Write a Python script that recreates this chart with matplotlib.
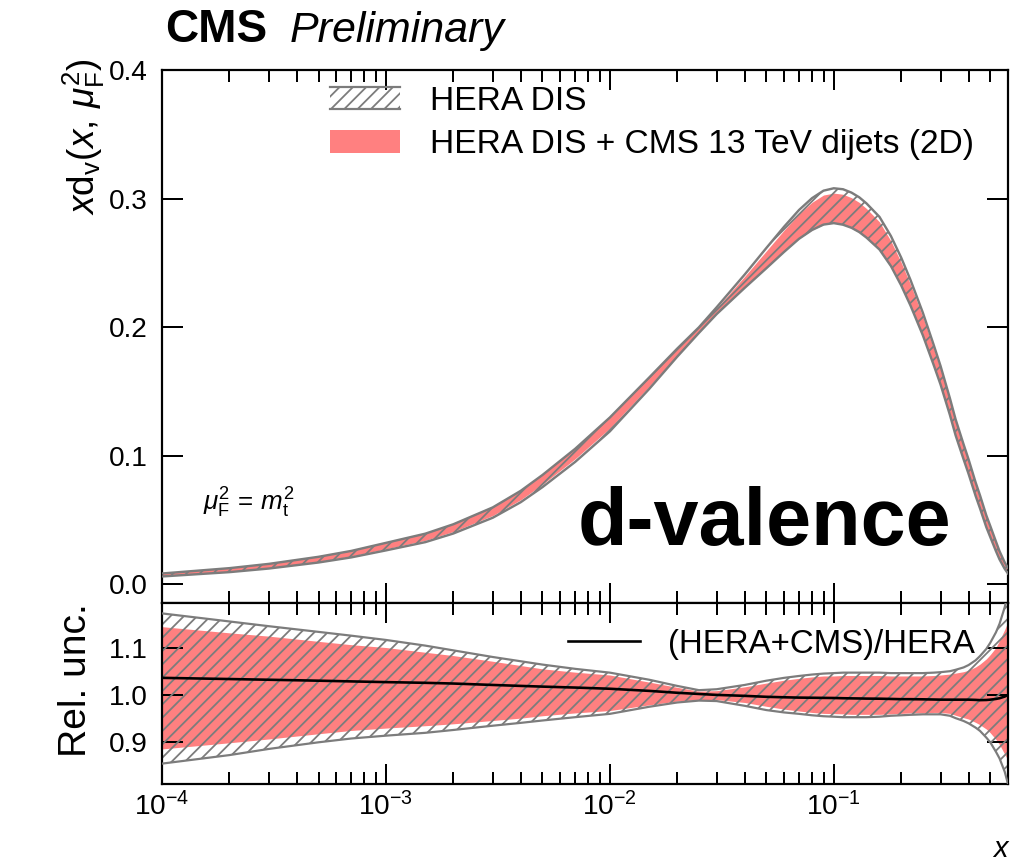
import matplotlib
matplotlib.use("Agg")
import numpy as np
import matplotlib.pyplot as plt
from matplotlib.patches import Rectangle, Patch
from matplotlib.lines import Line2D
from matplotlib.legend_handler import HandlerBase
from matplotlib.ticker import (FixedLocator, LogLocator, FormatStrFormatter,
                               NullLocator, NullFormatter)

# ---------------------------------------------------------------- data
x_grid = [1e-4, 2e-4, 3e-4, 5e-4, 7e-4,
          1e-3, 1.5e-3, 2e-3, 3e-3, 4e-3, 5e-3, 7e-3,
          1e-2, 1.5e-2, 2e-2, 2.5e-2, 3e-2, 4e-2, 5e-2, 6e-2, 7e-2, 8e-2, 9e-2,
          0.10, 0.11, 0.12, 0.13, 0.14, 0.16, 0.18, 0.20, 0.22, 0.25, 0.28, 0.30,
          0.33, 0.35, 0.38, 0.40, 0.43, 0.45, 0.48, 0.50, 0.53, 0.55, 0.58, 0.60]

# x d_v(x, mu_F^2) central value of the HERA DIS fit
xdv_hera = [0.0073, 0.0110, 0.0140, 0.0190, 0.0232,
            0.0290, 0.0358, 0.0428, 0.0555, 0.0680, 0.0800, 0.1000,
            0.1240, 0.1560, 0.1800, 0.1980, 0.2130, 0.2360, 0.2540, 0.2685,
            0.2800, 0.2880, 0.2930,
            0.2945, 0.2935, 0.2910, 0.2875, 0.2830, 0.2730, 0.2590, 0.2430,
            0.2265, 0.2020, 0.1775, 0.1620,
            0.1380, 0.1220, 0.1030, 0.0915, 0.0740, 0.0640, 0.0490, 0.0410,
            0.0295, 0.0225, 0.0145, 0.0105]

# relative uncertainty band, HERA DIS
hera_up = [1.172, 1.155, 1.145, 1.133, 1.125,
           1.116, 1.104, 1.094, 1.080, 1.071, 1.064, 1.055,
           1.047, 1.032, 1.019, 1.010, 1.012, 1.021, 1.030, 1.036, 1.040,
           1.043, 1.045,
           1.046, 1.047, 1.047, 1.047, 1.047, 1.047, 1.046, 1.046, 1.046,
           1.046, 1.047, 1.048,
           1.050, 1.053, 1.058, 1.063, 1.073, 1.082, 1.097, 1.110, 1.132,
           1.150, 1.185, 1.215]
hera_dn = [0.855, 0.873, 0.886, 0.900, 0.908,
           0.914, 0.920, 0.926, 0.935, 0.941, 0.946, 0.953,
           0.960, 0.975, 0.984, 0.988, 0.987, 0.977, 0.968, 0.963, 0.960,
           0.957, 0.955,
           0.954, 0.953, 0.953, 0.953, 0.953, 0.954, 0.956, 0.957, 0.958,
           0.959, 0.959, 0.959,
           0.956, 0.951, 0.945, 0.940, 0.931, 0.924, 0.910, 0.900, 0.880,
           0.866, 0.838, 0.812]

# relative uncertainty band, HERA DIS + CMS 13 TeV dijets (2D)
cms_up = [1.144, 1.131, 1.124, 1.113, 1.106,
          1.100, 1.090, 1.083, 1.071, 1.062, 1.055, 1.048,
          1.042, 1.027, 1.016, 1.008, 1.009, 1.017, 1.025, 1.031, 1.035,
          1.038, 1.040,
          1.040, 1.041, 1.041, 1.041, 1.041, 1.041, 1.040, 1.040, 1.040,
          1.040, 1.041, 1.042,
          1.044, 1.046, 1.049, 1.052, 1.059, 1.065, 1.076, 1.085, 1.100,
          1.115, 1.138, 1.155]
cms_dn = [0.886, 0.899, 0.907, 0.918, 0.925,
          0.930, 0.935, 0.939, 0.946, 0.951, 0.956, 0.962,
          0.967, 0.979, 0.987, 0.990, 0.990, 0.984, 0.976, 0.970, 0.966,
          0.963, 0.961,
          0.9605, 0.960, 0.959, 0.959, 0.959, 0.959, 0.960, 0.961, 0.962,
          0.962, 0.963, 0.963,
          0.961, 0.957, 0.952, 0.949, 0.942, 0.937, 0.928, 0.920, 0.906,
          0.895, 0.875, 0.862]

# central (HERA+CMS)/HERA
ratio = [1.036, 1.0335, 1.032, 1.030, 1.0285,
         1.027, 1.0255, 1.024, 1.021, 1.019, 1.0175, 1.0155,
         1.013, 1.0085, 1.0045, 1.002, 1.000, 0.998, 0.996, 0.995, 0.9943,
         0.994, 0.9937,
         0.9935, 0.993, 0.9927, 0.9925, 0.9922, 0.992, 0.9915, 0.991, 0.991,
         0.9907, 0.9903, 0.990,
         0.990, 0.990, 0.990, 0.990, 0.9895, 0.989, 0.9893, 0.990, 0.9915,
         0.993, 0.9965, 1.000]

legend_labels = ["HERA DIS", "HERA DIS + CMS 13 TeV dijets (2D)"]
ratio_label = "(HERA+CMS)/HERA"
top_yticks = [0.0, 0.1, 0.2, 0.3, 0.4]
bottom_yticks = [0.9, 1.0, 1.1]

# ---------------------------------------------------------------- style
DPI = 80
PX = 72.0 / DPI          # points per pixel
W, H = 1024, 865
RED = "#ff8080"
GREY = "#7c7c7c"

plt.rcParams.update({
    "font.family": "Liberation Sans",
    "mathtext.fontset": "custom",
    "mathtext.rm": "Liberation Sans",
    "mathtext.it": "Liberation Sans:italic",
    "mathtext.bf": "Liberation Sans:bold",
    "mathtext.sf": "Liberation Sans",
    "hatch.color": GREY,
    "hatch.linewidth": 1.8 * PX,
    "axes.linewidth": 2.2 * PX,
})

fig = plt.figure(figsize=(W / DPI, H / DPI), dpi=DPI)


def frame(left, top, right, bottom):
    return [left / W, 1 - bottom / H, (right - left) / W, (bottom - top) / H]


ax1 = fig.add_axes(frame(162, 70, 1008, 602.5))
ax2 = fig.add_axes(frame(162, 602.5, 1008, 784))

x = np.array(x_grid)
c = np.array(xdv_hera)
h_up, h_dn = np.array(hera_up), np.array(hera_dn)
k_up, k_dn = np.array(cms_up), np.array(cms_dn)
r = np.array(ratio)

HATCH = "//"

# ---------------------------------------------------------------- upper panel
ax1.fill_between(x, c * r * k_dn, c * r * k_up, color=RED, lw=0, zorder=1)
ax1.fill_between(x, c * h_dn, c * h_up, facecolor="none", edgecolor=GREY,
                 hatch=HATCH, lw=0, zorder=2)
ax1.plot(x, c * h_up, color=GREY, lw=2.4 * PX, zorder=3)
ax1.plot(x, c * h_dn, color=GREY, lw=2.4 * PX, zorder=3)

# ---------------------------------------------------------------- ratio panel
ax2.fill_between(x, k_dn, k_up, color=RED, lw=0, zorder=1)
ax2.fill_between(x, h_dn, h_up, facecolor="none", edgecolor=GREY,
                 hatch=HATCH, lw=0, zorder=2)
ax2.plot(x, h_up, color=GREY, lw=2.2 * PX, zorder=3)
ax2.plot(x, h_dn, color=GREY, lw=2.2 * PX, zorder=3)
ratio_line, = ax2.plot(x, r, color="black", lw=2.6 * PX, zorder=4)

# ---------------------------------------------------------------- axes
TICK_FS = 28 * PX
for ax in (ax1, ax2):
    ax.set_xscale("log")
    ax.set_xlim(1e-4, 0.6)
    ax.xaxis.set_major_locator(LogLocator(base=10, numticks=12))
    ax.xaxis.set_minor_locator(LogLocator(base=10, subs=np.arange(2, 10),
                                          numticks=40))
    ax.xaxis.set_minor_formatter(NullFormatter())
    ax.yaxis.set_minor_locator(NullLocator())
    ax.yaxis.set_major_formatter(FormatStrFormatter("%.1f"))
    ax.tick_params(which="both", direction="in", top=True, right=True,
                   width=2.0 * PX, colors="black", labelsize=TICK_FS)
    ax.tick_params(axis="x", which="major", length=20 * PX, pad=8 * PX)
    ax.tick_params(axis="x", which="minor", length=12 * PX)
    ax.tick_params(axis="y", which="major", length=21 * PX, pad=14 * PX)

ax1.set_ylim(-0.014, 0.4)
ax1.yaxis.set_major_locator(FixedLocator(top_yticks))
ax1.tick_params(labelbottom=False)

ax2.set_ylim(0.812, 1.195)
ax2.yaxis.set_major_locator(FixedLocator(bottom_yticks))

# ---------------------------------------------------------------- legends


class HatchBoxHandler(HandlerBase):
    def create_artists(self, legend, orig_handle, xdescent, ydescent,
                       width, height, fontsize, trans):
        x0, y0 = -xdescent, -ydescent
        box = Rectangle((x0, y0), width, height, facecolor="none",
                        edgecolor=GREY, hatch=HATCH, lw=0, transform=trans)
        top = Line2D([x0, x0 + width], [y0 + height] * 2, color=GREY,
                     lw=2.2 * PX, transform=trans)
        bot = Line2D([x0, x0 + width], [y0] * 2, color=GREY,
                     lw=2.2 * PX, transform=trans)
        return [box, top, bot]


hatch_proxy = Patch(facecolor="none", edgecolor=GREY, hatch=HATCH)
red_proxy = Patch(facecolor=RED, edgecolor="none")
LEG_PX = 33.5
ax1.legend(handles=[hatch_proxy, red_proxy], labels=legend_labels,
           handler_map={hatch_proxy: HatchBoxHandler()},
           loc="upper left",
           bbox_to_anchor=((330 - 162) / 846, 1 - (86 - 70) / 532.5),
           frameon=False, fontsize=LEG_PX * PX, handlelength=70 / LEG_PX,
           handleheight=22 / LEG_PX, handletextpad=30 / LEG_PX,
           labelspacing=0.36, borderpad=0, borderaxespad=0)

ax2.legend(handles=[ratio_line], labels=[ratio_label], loc="upper left",
           bbox_to_anchor=((568 - 162) / 846, 1 - (629 - 602.5) / 181.5),
           frameon=False, fontsize=33 * PX, handlelength=72 / 33,
           handletextpad=28 / 33, borderpad=0, borderaxespad=0)

# ---------------------------------------------------------------- texts
fig.text(165 / W, 1 - 42 / H, "CMS", weight="bold", fontsize=46 * PX,
         va="baseline", ha="left")
fig.text(290 / W, 1 - 42 / H, "Preliminary", style="italic",
         fontsize=43 * PX, va="baseline", ha="left")
fig.text(578 / W, 1 - 545 / H, "d-valence", weight="bold", fontsize=81 * PX,
         va="baseline", ha="left")
fig.text(203 / W, 1 - 511 / H,
         r"$\mu_{\mathrm{F}}^{2}\,=\,m_{\mathrm{t}}^{2}$",
         fontsize=26 * PX, va="baseline", ha="left")
fig.text(84 / W, 1 - 58 / H,
         r"$x\mathrm{d}_{\mathrm{v}}(x,\,\mu_{\mathrm{F}}^{2})$",
         rotation=90, fontsize=37 * PX, ha="center", va="top")
fig.text(76 / W, 1 - 603 / H, "Rel. unc.", rotation=90, fontsize=39 * PX,
         ha="center", va="top")
fig.text(1008 / W, 1 - 857 / H, "x", style="italic", fontsize=29 * PX,
         ha="right", va="baseline")

fig.savefig("out.png", dpi=DPI)
